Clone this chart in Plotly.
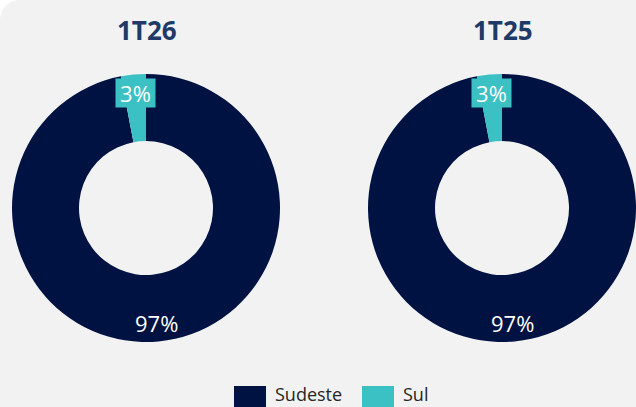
import math
import plotly.graph_objects as go

# ---- data ----
categories = ["Sudeste", "Sul"]
values_1t26 = [97, 3]
values_1t25 = [97, 3]
period_labels = ["1T26", "1T25"]

# ---- style ----
colors = ["#001242", "#3BC1C3"]
W, H = 636, 407
FONT = "Open Sans"

# donut geometry (pixels): centre x, centre y, outer radius
donuts = [(146, 208, 134), (502, 208, 134)]
HOLE = 0.5
LABEL_R = 0.865

fig = go.Figure()
annotations = []


def paper(xp, yp):
    return xp / W, 1 - yp / H


for (cx, cy, R), vals, title in zip(donuts, [values_1t26, values_1t25], period_labels):
    fig.add_trace(go.Pie(
        labels=categories,
        values=vals,
        hole=HOLE,
        sort=False,
        direction="clockwise",
        rotation=0,
        textinfo="none",
        marker=dict(colors=colors, line=dict(width=0)),
        domain=dict(x=[(cx - R) / W, (cx + R) / W],
                    y=[(H - cy - R) / H, (H - cy + R) / H]),
        showlegend=False,
        hoverinfo="label+percent",
    ))
    total = sum(vals)
    cum = 0
    for i, v in enumerate(vals):
        mid = (cum + v / 2) / total * 2 * math.pi
        cum += v
        xp = cx + LABEL_R * R * math.sin(mid)
        yp = cy - LABEL_R * R * math.cos(mid)
        x, y = paper(xp, yp)
        pct = f"{round(v / total * 100)}%"
        ann = dict(x=x, y=y, xref="paper", yref="paper", text=pct,
                   showarrow=False, xanchor="center", yanchor="middle",
                   font=dict(family=FONT, size=22, color="white"))
        if i == 1:
            ann.update(bgcolor=colors[1], width=39, height=28, borderpad=0)
        annotations.append(ann)
    tx, ty = paper(cx + 1, 30)
    annotations.append(dict(x=tx, y=ty, xref="paper", yref="paper",
                            text=f"<b>{title}</b>", showarrow=False,
                            xanchor="center", yanchor="middle",
                            font=dict(family=FONT, size=26, color="#203A68")))

# ---- legend (drawn) ----
shapes = []
# rounded background panel (only top-left corner visible)
r = 20
k = 0.45
path = (f"M 0,{1 - r / H} "
        f"C 0,{1 - r * k / H} {r * k / W},1 {r / W},1 "
        f"L 1.01,1 L 1.01,-0.01 L 0,-0.01 Z")
shapes.append(dict(type="path", path=path, xref="paper", yref="paper",
                   fillcolor="#F2F2F2", line=dict(width=0), layer="below"))

legend_items = [(234, categories[0], colors[0]), (362, categories[1], colors[1])]
for x0, name, col in legend_items:
    ax0, ay0 = paper(x0, 386)
    ax1, ay1 = paper(x0 + 32, 412)
    shapes.append(dict(type="rect", xref="paper", yref="paper",
                       x0=ax0, x1=ax1, y0=ay1, y1=ay0,
                       fillcolor=col, line=dict(width=0)))
    lx, ly = paper(x0 + 39, 394)
    annotations.append(dict(x=lx, y=ly, xref="paper", yref="paper", text=name,
                            showarrow=False, xanchor="left", yanchor="middle",
                            font=dict(family=FONT, size=18, color="#262626")))

fig.update_layout(
    width=W, height=H,
    margin=dict(l=0, r=0, t=0, b=0, autoexpand=False),
    paper_bgcolor="white",
    plot_bgcolor="white",
    showlegend=False,
    annotations=annotations,
    shapes=shapes,
)

fig.write_html(
    "out.html",
    config={"displayModeBar": False},
    post_script="document.body.style.margin='0';document.body.style.overflow='hidden';",
)
